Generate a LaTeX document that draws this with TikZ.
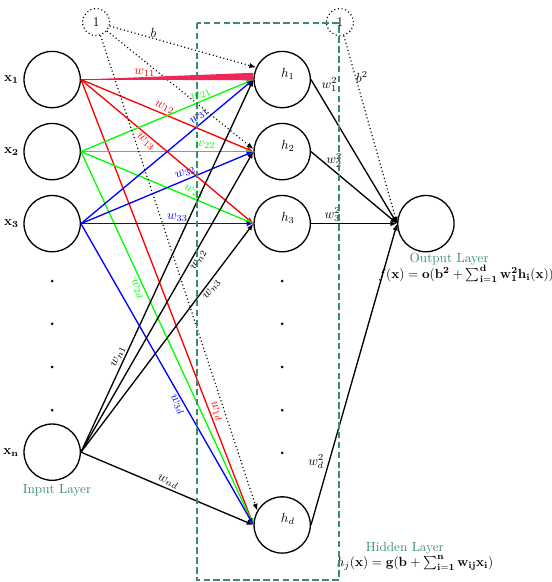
\documentclass[tikz,border=0pt]{standalone}
\usepackage{amsmath,amssymb}
\usepackage{xcolor}
\usepackage{tikz}
\usetikzlibrary{arrows.meta,calc}
\definecolor{layergreen}{RGB}{60,140,110}
\definecolor{wedgered}{RGB}{240,40,90}
\tikzset{
  neuron/.style={draw, circle, line width=1pt, minimum size=1.5cm, inner sep=0pt,
                 label distance=-2pt},
  biasnode/.style={draw, circle, line width=0.9pt, dash pattern=on 0.8pt off 2pt,
                   minimum size=0.72cm, inner sep=0pt},
  dotmark/.style={circle, fill, inner sep=0pt, minimum size=2.2pt},
  hname/.style={inner sep=0pt},
  layername/.style={text=layergreen, inner sep=0pt},
  link/.style={line width=1pt, -{Latex[length=1.8mm,width=1.4mm]}},
  biaslink/.style={line width=0.9pt, dash pattern=on 0.8pt off 2pt,
                   -{Latex[length=1.8mm,width=1.4mm]}},
  wlab/.style={sloped, inner sep=1.5pt},
}

\begin{document}
\begin{tikzpicture}
  \useasboundingbox (0,0) rectangle (14.71,-15.51);
  % input layer
  \node[neuron, label=left:$\mathbf{x_1}$] (x1) at (1.39,-2.12) {};
  \node[neuron, label=left:$\mathbf{x_2}$] (x2) at (1.39,-4.04) {};
  \node[neuron, label=left:$\mathbf{x_3}$] (x3) at (1.39,-5.96) {};
  \node[dotmark] (xd1) at (1.39,-7.49) {};
  \node[dotmark] (xd2) at (1.39,-8.63) {};
  \node[dotmark] (xd3) at (1.39,-9.78) {};
  \node[dotmark] (xd4) at (1.39,-10.93) {};
  \node[neuron, label=left:$\mathbf{x_n}$] (xn) at (1.39,-12.05) {};
  \node[layername] (inlab) at (1.52,-13.06) {Input Layer};
  % hidden layer
  \node[neuron] (h1) at (7.52,-2.12) {};
  \node[neuron] (h2) at (7.52,-4.04) {};
  \node[neuron] (h3) at (7.52,-5.96) {};
  \node[dotmark] (hd1) at (7.52,-7.49) {};
  \node[dotmark] (hd2) at (7.52,-8.63) {};
  \node[dotmark] (hd3) at (7.52,-9.78) {};
  \node[dotmark] (hd4) at (7.52,-10.93) {};
  \node[dotmark] (hd5) at (7.52,-12.07) {};
  \node[neuron] (hd) at (7.52,-13.99) {};
  \node[hname] (h1t) at ($(h1)+(0.15,0.15)$) {$h_1$};
  \node[hname] (h2t) at ($(h2)+(0.15,0.15)$) {$h_2$};
  \node[hname] (h3t) at ($(h3)+(0.15,0.15)$) {$h_3$};
  \node[hname] (hdt) at ($(hd)+(0.15,0.15)$) {$h_d$};
  \node[layername] (hidlab) at (10.79,-14.60) {Hidden Layer};
  \node[hname] (hidf) at (11.06,-15.00)
    {$h_j(\mathbf{x}) = \mathbf{g(b + \sum_{i=1}^n w_{ij}x_i)}$};
  % output layer
  \node[neuron] (out) at (11.35,-5.96) {};
  \node[layername] (outlab) at (11.97,-6.90) {Output Layer};
  \node[hname] (outf) at (12.42,-7.30)
    {$f(\mathbf{x}) = \mathbf{o(b^2 + \sum_{i=1}^d w_1^2h_i(x))}$};
  % biases
  \node[biasnode] (b1) at (2.56,-0.59) {1};
  \node[biasnode] (b2) at (9.06,-0.59) {1};
  % input to hidden
  \draw[link, red] (x1.east) -- node[wlab, pos=0.37, above] {$w_{11}$} (h1.west);
  \draw[link, red] (x1.east) -- node[wlab, pos=0.47, above] {$w_{12}$} (h2.west);
  \draw[link, red] (x1.east) -- node[wlab, pos=0.40, below] {$w_{13}$} (h3.west);
  \draw[link, red] (x1.east) -- node[wlab, pos=0.75, above] {$w_{1d}$} (hd.west);
  \draw[link, green] (x2.east) -- node[wlab, pos=0.71, above] {$w_{21}$} (h1.west);
  \draw[link, green] (x2.east) -- node[wlab, pos=0.72, above] {$w_{22}$} (h2.west);
  \draw[link, green] (x2.east) -- node[wlab, pos=0.64, above] {$w_{23}$} (h3.west);
  \draw[link, green] (x2.east) -- node[wlab, pos=0.36, below] {$w_{2d}$} (hd.west);
  \draw[link, blue] (x3.east) -- node[wlab, pos=0.71, above] {$w_{31}$} (h1.west);
  \draw[link, blue] (x3.east) -- node[wlab, pos=0.62, above] {$w_{32}$} (h2.west);
  \draw[link, blue] (x3.east) -- node[wlab, pos=0.56, above] {$w_{33}$} (h3.west);
  \draw[link, blue] (x3.east) -- node[wlab, pos=0.59, below] {$w_{3d}$} (hd.west);
  \draw[link] (xn.east) -- node[wlab, pos=0.25, above] {$w_{n1}$} (h1.west);
  \draw[link] (xn.east) -- node[wlab, pos=0.65, below] {$w_{n2}$} (h2.west);
  \draw[link] (xn.east) -- node[wlab, pos=0.73, below] {$w_{n3}$} (h3.west);
  \draw[link] (xn.east) -- node[wlab, pos=0.49, above] {$w_{nd}$} (hd.west);
  % hidden to output
  \draw[link] (h1.east) -- node[pos=0.1, above right, inner sep=1pt] {$w_1^2$} (out.west);
  \draw[link] (h2.east) -- node[pos=0.12, right] {$w_2^2$} (out.west);
  \draw[link] (h3.east) -- node[pos=0.25, above, inner sep=1pt] {$w_3^2$} (out.west);
  \draw[link] (hd.east) -- node[pos=0.21, left] {$w_d^2$} (out.west);
  % bias links
  \draw[biaslink] (b1) -- node[pos=0.3, above, inner sep=0pt] {$b$} (h1.155);
  \draw[biaslink] (b1) -- (h2.175);
  \draw[biaslink] (b1) -- (hd.150);
  \draw[biaslink] (b2) -- node[pos=0.22, right, inner sep=0pt] {$b^2$} (out.west);
  % hidden layer box
  \draw[layergreen, line width=1.2pt, dash pattern=on 5pt off 2.5pt] (5.25,-0.61) rectangle (9.03,-15.46);
  \fill[wedgered] (x1.east) -- ($(h1.west)+(0,-0.02)$) -- ($(h1.west)+(0,0.18)$) -- cycle;
\end{tikzpicture}
\end{document}
